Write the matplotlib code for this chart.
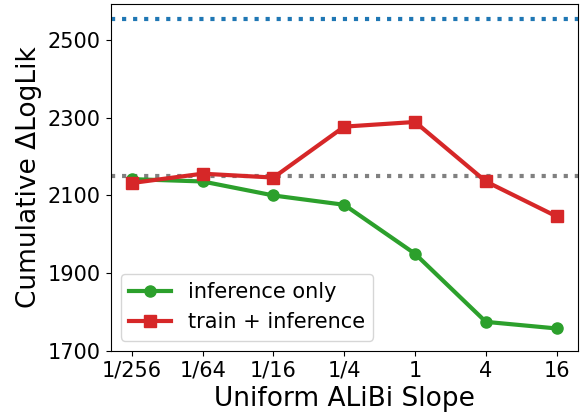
import matplotlib
matplotlib.use("Agg")
import matplotlib.pyplot as plt

slopes = ["1/256", "1/64", "1/16", "1/4", "1", "4", "16"]
inference_only = [2142, 2136, 2100, 2076, 1950, 1775, 1758]
train_inference = [2132, 2156, 2146, 2277, 2289, 2136, 2046]
upper_ref = 2554
base_ref = 2151

fig, ax = plt.subplots(figsize=(5.82, 4.12), dpi=100)
x = list(range(len(slopes)))

ax.axhline(upper_ref, color="tab:blue", linestyle=":", linewidth=3)
ax.axhline(base_ref, color="gray", linestyle=":", linewidth=3)
ax.plot(x, inference_only, color="tab:green", marker="o", markersize=8,
        linewidth=3, label="inference only")
ax.plot(x, train_inference, color="tab:red", marker="s", markersize=9,
        linewidth=3, label="train + inference")

ax.set_xticks(x)
ax.set_xticklabels(slopes)
ax.set_yticks([1700, 1900, 2100, 2300, 2500])
ax.set_ylim(1700, 2592)
ax.tick_params(labelsize=15)
ax.set_xlabel("Uniform ALiBi Slope", fontsize=19)
ax.set_ylabel("Cumulative ΔLogLik", fontsize=19)
ax.legend(fontsize=15, loc="lower left")

fig.subplots_adjust(left=0.19, right=0.993, top=0.99, bottom=0.148)
fig.savefig("out.png")
